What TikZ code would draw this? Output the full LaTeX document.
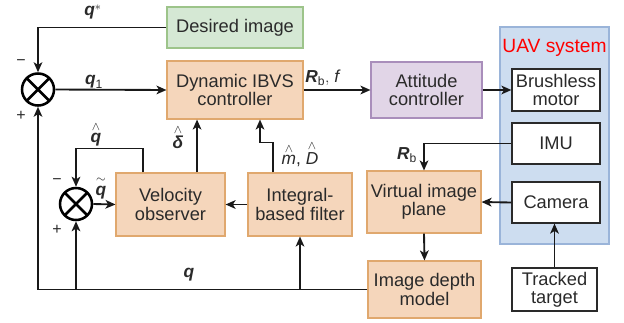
\documentclass[tikz,border=0pt]{standalone}
\usepackage{fontspec}
\setmainfont{Liberation Sans}
\usepackage{amsmath}
\usetikzlibrary{arrows.meta, positioning, calc}

\definecolor{peachfill}{HTML}{F5D6BB}
\definecolor{peachline}{HTML}{E0A86E}
\definecolor{sagefill}{HTML}{D5E8D4}
\definecolor{sageline}{HTML}{9DC48A}
\definecolor{lilacfill}{HTML}{E1D5E7}
\definecolor{lilacline}{HTML}{A98EBB}
\definecolor{skyfill}{HTML}{CDDDF0}
\definecolor{skyline}{HTML}{9AB4D9}
\definecolor{inkgray}{HTML}{2A2A2A}

\newcommand{\blockfont}{\fontsize{13.7}{13.6}\selectfont}
\newcommand{\bq}{\textbf{\textit{q}}}
\newcommand{\bR}{\textbf{\textit{R}}}

\tikzset{
  % Process blocks
  block/.style={
    rectangle, draw=#1line, fill=#1fill, text=inkgray, font=\blockfont,
    align=center, line width=0.8pt, inner sep=1pt,
  },
  block/.default={peach},
  % UAV hardware boxes
  hwbox/.style={
    rectangle, draw=inkgray, fill=white, text=inkgray, font=\blockfont,
    align=center, line width=0.9pt, inner sep=1pt,
    minimum width=66pt, minimum height=30.75pt,
  },
  % UAV panel
  panel/.style={
    rectangle, draw=skyline, fill=skyfill, line width=0.8pt,
  },
  % Summing junctions
  summer/.style={
    circle, draw=black, line width=1.9pt, minimum size=24pt, inner sep=0pt,
    path picture={
      \draw[line width=1.9pt]
        (path picture bounding box.north west) -- (path picture bounding box.south east)
        (path picture bounding box.north east) -- (path picture bounding box.south west);
    },
  },
  % Signal lines
  flow/.style={-{Stealth[length=7.5pt, width=6.5pt, inset=2pt]}, line width=1.4pt, draw=black!90},
  % Signal labels
  sig/.style={font=\fontsize{13}{13}\selectfont, text=inkgray, inner sep=0pt},
  sign/.style={font=\fontsize{12}{12}\selectfont, text=inkgray, inner sep=0pt},
}

\begin{document}
\begin{tikzpicture}[x=0.75pt, y=-0.75pt]

  \useasboundingbox (0,0) rectangle (624,322);

  % UAV side
  \node[panel, minimum width=81.75pt, minimum height=162.75pt] (uav) at (554.5,135.5) {};
  \node[font=\fontsize{14.4}{14.4}\selectfont, text=red] (uav-title) at (554.5,48) {UAV system};
  \node[hwbox, minimum height=31.5pt] (motor) at (556,90) {Brushless\\motor};
  \node[hwbox] (imu) at (556,143.5) {IMU};
  \node[hwbox] (cam) at (556,202.5) {Camera};
  \node[hwbox, minimum width=63.75pt, minimum height=32.25pt] (target) at (554.5,289.5) {Tracked\\target};

  % Controller blocks
  \node[block=sage, minimum width=102pt, minimum height=30.75pt] (desired) at (235,27.5) {Desired image};
  \node[block, minimum width=102pt, minimum height=43.5pt] (ibvs) at (235,90) {Dynamic IBVS\\controller};
  \node[block=lilac, minimum width=83.25pt, minimum height=42pt] (att) at (426.5,90) {Attitude\\controller};
  \node[block, minimum width=85.5pt, minimum height=46.5pt] (vip) at (424,202) {Virtual image\\plane};
  \node[block, minimum width=84.75pt, minimum height=42.75pt] (depth) at (424.5,289.5) {Image depth\\model};
  \node[block, minimum width=78pt, minimum height=47.25pt] (filter) at (300,204.5) {Integral-\\based filter};
  \node[block, minimum width=81.75pt, minimum height=47.25pt] (vel) at (170.5,204.5) {Velocity\\observer};

  % Summing junctions
  \node[summer] (sum1) at (38,89.5) {};
  \node[summer] (sum2) at (76,204) {};
  \node[sign] (sum1-minus) at (21,63) {−};
  \node[sign] (sum1-plus) at (21,116) {+};
  \node[sign] (sum2-minus) at (57,182) {−};
  \node[sign] (sum2-plus) at (57,230) {+};

  % Main loop
  \draw[flow] (desired.west) -| (sum1.north);
  \draw[flow] (sum1.east) -- (ibvs.west);
  \draw[flow] (ibvs.east) -- (att.west);
  \draw[flow] (att.east) -- (motor.west);
  \draw[flow] (imu.west) -| (vip.north);
  \draw[flow] (cam.west) -- (vip.east);
  \draw[flow] (target.north) -- (target.north |- cam.south);
  \draw[flow] (vip.south) -- (depth.north);

  % Measured feature bus
  \draw[flow] (depth.west) -| (sum1.south);
  \draw[flow] (filter.south |- depth.west) -- (filter.south);
  \draw[flow] (sum2.south |- depth.west) -- (sum2.south);

  % Estimator loop
  \draw[flow] (filter.west) -- (vel.east);
  \draw[flow] ([xshift=-20.25pt]filter.north) -- ++(0,-30) -| ([xshift=18.75pt]ibvs.south);
  \draw[flow] ([xshift=19.9pt]vel.north) -- ([xshift=19.9pt]vel.north |- ibvs.south);
  \draw[flow] ([xshift=-20.6pt]vel.north) -- ++(0,-24) -| (sum2.north);
  \draw[flow] (sum2.east) -- (vel.west);

  % Signal labels
  \node[sig] (l-qstar) at (93,12) {$\bq^{*}$};
  \node[sig] (l-q1) at (94,82) {$\bq_{\text{1}}$};
  \node[sig] (l-rbf) at (323,78) {$\bR_{\text{b}},$ \textit{f}};
  \node[sig] (l-rb) at (407,155) {$\bR_{\text{b}}$};
  \node[sig] (l-delta) at (178,137) {$\overset{\wedge}{\text{\textbf{\textit{δ}}}}$};
  \node[sig] (l-qhat) at (96,134) {$\overset{\wedge}{\bq}$};
  \node[sig] (l-qtilde) at (101,188) {$\overset{\sim}{\bq}$};
  \node[sig] (l-mD) at (300,154) {$\overset{\wedge}{\text{\textit{m}}}$, $\overset{\wedge}{\text{\textit{D}}}$};
  \node[sig] (l-q) at (189,275) {$\bq$};

\end{tikzpicture}
\end{document}
